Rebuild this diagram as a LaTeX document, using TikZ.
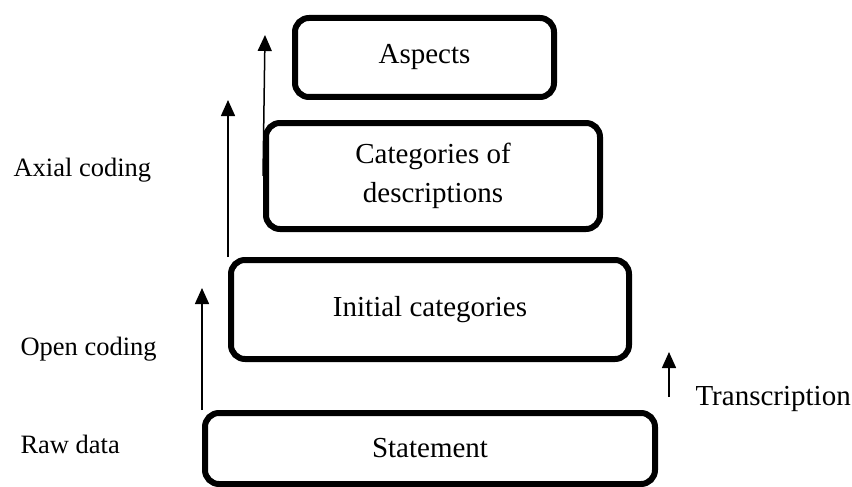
\documentclass[tikz,border=0pt]{standalone}
\usepackage{fontspec}
\setmainfont{Liberation Serif}
\usetikzlibrary{arrows.meta}
\tikzset{>={Triangle[length=16pt,width=14pt]}}

\begin{document}
\begin{tikzpicture}[x=1pt,y=-1pt,
  box/.style={draw,line width=6pt,rounded corners=14pt,align=center,font=\fontsize{29}{39}\selectfont},
  side/.style={anchor=base west,font=\fontsize{26.5}{30}\selectfont},
  up/.style={->,line width=1.5pt}]
\useasboundingbox (0,0) rectangle (852,487);
\node[box,minimum width=259,minimum height=79] (asp) at (424.5,57.5) {Aspects};
\node[box,minimum width=334,minimum height=106] (cat) at (433,176) {Categories of\\descriptions};
\node[box,minimum width=398,minimum height=99] (ini) at (430,309.5) {Initial categories};
\node[box,minimum width=450,minimum height=71] (sta) at (430,448.5) {Statement};
\node[side] (axial) at (10,176) {Axial coding};
\node[side] (open) at (17,355) {Open coding};
\node[side] (raw) at (17,453) {Raw data};
\node[side,font=\fontsize{29}{32}\selectfont] (trans) at (692,405) {Transcription};
\coordinate (t1) at (202,288);
\coordinate (t2) at (228,100);
\coordinate (t3) at (265,35);
\coordinate (b4) at (669,397);
\coordinate (t4) at (669,352);
\draw[up] (sta.north west) -- (t1);
\draw[up] (ini.north west) -- (t2);
\draw[up] (cat.west) -- (t3);
\draw[up] (b4) -- (t4);
\end{tikzpicture}
\end{document}
